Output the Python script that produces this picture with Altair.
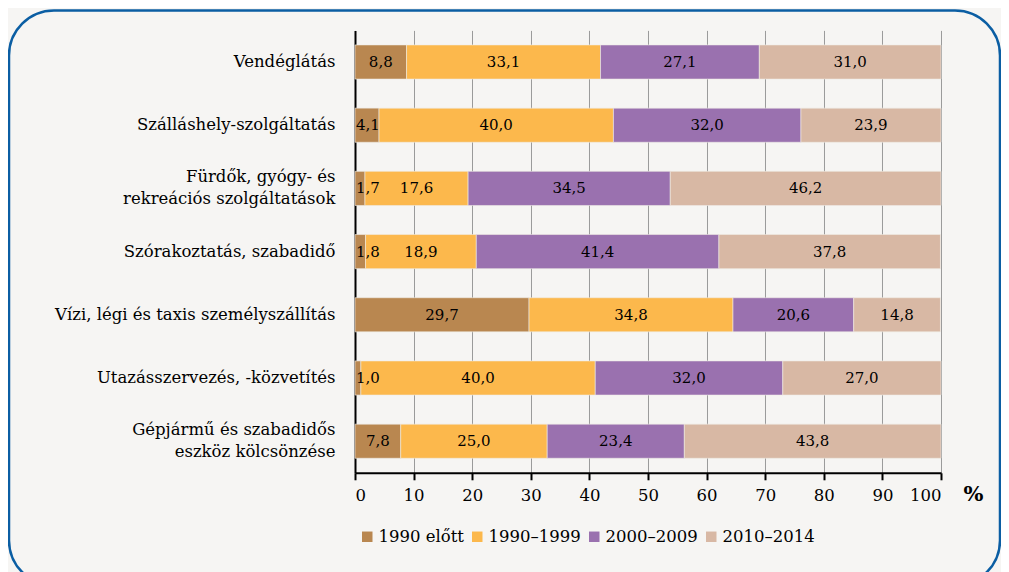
import altair as alt
import pandas as pd

categories = [
    "Vendéglátás",
    "Szálláshely-szolgáltatás",
    "Fürdők, gyógy- és\u2002\u2002\u2002\u2002|rekreációs szolgáltatások",
    "Szórakoztatás, szabadidő",
    "Vízi, légi és taxis személyszállítás",
    "Utazásszervezés, -közvetítés",
    "Gépjármű és szabadidős\u2002\u2002\u2002|eszköz kölcsönzése",
]
series = ["1990 előtt", "1990–1999", "2000–2009", "2010–2014"]
colors = ["#b98750", "#fcb84c", "#9a71af", "#d8b8a4"]

v_1990_elott = [8.8, 4.1, 1.7, 1.8, 29.7, 1.0, 7.8]
v_1990_1999 = [33.1, 40.0, 17.6, 18.9, 34.8, 40.0, 25.0]
v_2000_2009 = [27.1, 32.0, 34.5, 41.4, 20.6, 32.0, 23.4]
v_2010_2014 = [31.0, 23.9, 46.2, 37.8, 14.8, 27.0, 43.8]

rows = []
for si, (s, vals) in enumerate(zip(series, [v_1990_elott, v_1990_1999, v_2000_2009, v_2010_2014])):
    for c, v in zip(categories, vals):
        rows.append({"cat": c, "series": s, "ord": si, "value": v,
                     "lbl": f"{v:.1f}".replace(".", ",")})
df = pd.DataFrame(rows)

FONT = "DejaVu Serif"


def build(use_cond):
    base = alt.Chart(df).transform_window(
        cum="sum(value)", groupby=["cat"], sort=[{"field": "ord"}]
    ).transform_calculate(
        start="datum.cum - datum.value", mid="datum.cum - datum.value / 2"
    )

    ax_kw = dict(labelExpr="split(datum.label, '|')", labelFontSize=16.5, labelFont=FONT,
                 labelColor="black", labelPadding=20, labelLimit=400, labelLineHeight=22,
                 ticks=False, domainColor="black", domainWidth=2, grid=False)
    if use_cond:
        ax_kw["labelOffset"] = {"condition": {"test": "indexof(datum.value, '|') >= 0", "value": -11},
                                "value": 0}

    y_enc = alt.Y(
        "cat:N", sort=categories, title=None,
        scale=alt.Scale(paddingInner=0.46, paddingOuter=0.23),
        axis=alt.Axis(**ax_kw),
    )

    bars = base.mark_bar(stroke="#f0ece6", strokeWidth=0.6).encode(
        x=alt.X("start:Q", scale=alt.Scale(domain=[0, 100], nice=False),
                axis=alt.Axis(values=list(range(0, 101, 10)), labelFontSize=16.5, labelFont=FONT,
                              labelColor="black", labelPadding=8, tickColor="black", tickWidth=2,
                              tickSize=7, domainColor="black", domainWidth=2, grid=True,
                              gridColor="#9a9a9a", gridWidth=1,
                              title="%", titleFont=FONT, titleFontSize=21, titleFontWeight="bold",
                              titleColor="black",
                              titleAngle=0, titleAlign="left", titleBaseline="alphabetic",
                              titleX=608, titleY=28)),
        x2="cum:Q",
        y=y_enc,
        color=alt.Color("series:N", scale=alt.Scale(domain=series, range=colors),
                        legend=alt.Legend(title=None, orient="none", direction="horizontal",
                                          legendX=4, legendY=498, labelFont=FONT, labelFontSize=16.5,
                                          labelColor="black", symbolType="square", symbolSize=110,
                                          symbolStrokeWidth=0, columnPadding=5, labelOffset=3)),
        order=alt.Order("ord:Q"),
    )

    txt_big = base.transform_filter("datum.value >= 5").mark_text(
        font=FONT, fontSize=15, color="black", align="center", baseline="middle"
    ).encode(x="mid:Q", y=alt.Y("cat:N", sort=categories), text="lbl:N")

    txt_small = base.transform_filter("datum.value < 5").mark_text(
        font=FONT, fontSize=15, color="black", align="left", baseline="middle", dx=1
    ).encode(x="start:Q", y=alt.Y("cat:N", sort=categories), text="lbl:N")

    frame = alt.Chart(pd.DataFrame({"k": [0]})).mark_rect(
        fill=None, stroke="#0b5ea3", strokeWidth=2.5, cornerRadius=45
    ).encode(x=alt.value(-346), x2=alt.value(645), y=alt.value(-20), y2=alt.value(555))

    return alt.layer(frame, bars, txt_big, txt_small).properties(
        width=586, height=442.4,
        padding={"left": 347, "top": 22.4, "right": 60, "bottom": 100},
        autosize=alt.AutoSizeParams(type="none"),
        background="#f6f5f3",
    ).configure_view(stroke=None)


try:
    chart = build(True)
    chart.save("out.html", embed_options={"renderer": "svg", "actions": False})
except Exception:
    chart = build(False)
    chart.save("out.html", embed_options={"renderer": "svg", "actions": False})
